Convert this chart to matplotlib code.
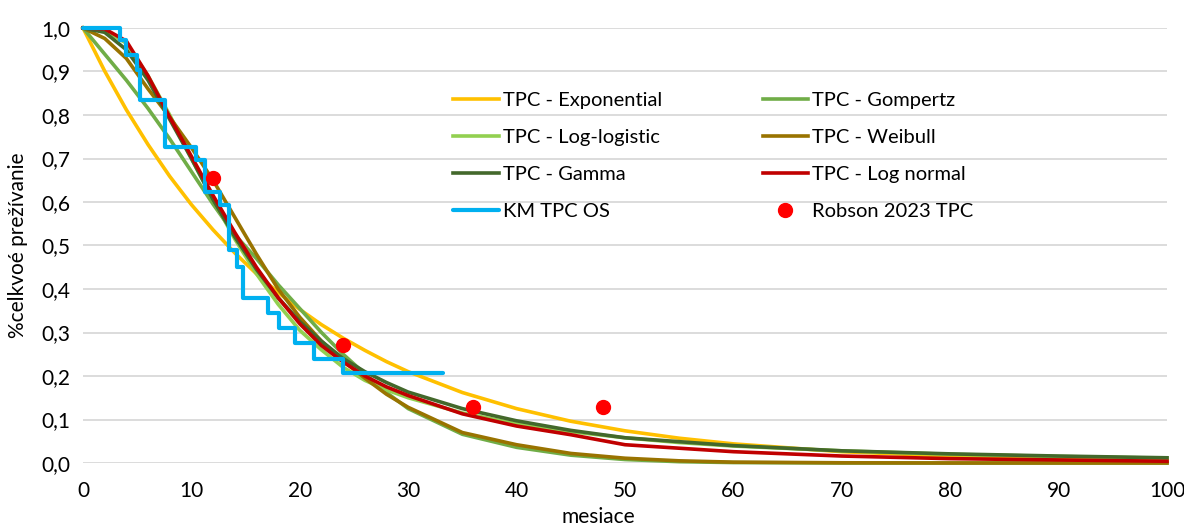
import matplotlib

matplotlib.use("Agg")
import matplotlib.pyplot as plt

plt.rcParams["font.family"] = ["Lato", "DejaVu Sans"]

# model curves at these months
months = [0, 2, 4, 6, 8, 10, 12, 14, 16, 18, 20, 22, 24, 26, 28, 30,
          35, 40, 45, 50, 55, 60, 70, 80, 90, 100]
exponential = [1.0, 0.901, 0.812, 0.732, 0.659, 0.594, 0.536, 0.483, 0.435, 0.392,
               0.353, 0.318, 0.287, 0.259, 0.233, 0.210, 0.162, 0.125, 0.096, 0.074,
               0.057, 0.044, 0.026, 0.016, 0.009, 0.0055]
gompertz = [1.0, 0.94, 0.88, 0.815, 0.745, 0.67, 0.595, 0.525, 0.47, 0.41,
            0.355, 0.30, 0.25, 0.205, 0.162, 0.125, 0.066, 0.036, 0.018, 0.008,
            0.003, 0.001, 0.0, 0.0, 0.0, 0.0]
log_logistic = [1.0, 0.995, 0.965, 0.89, 0.80, 0.70, 0.605, 0.515, 0.435, 0.365,
                0.305, 0.26, 0.22, 0.19, 0.168, 0.15, 0.115, 0.09, 0.072, 0.058,
                0.047, 0.039, 0.028, 0.02, 0.015, 0.011]
weibull = [1.0, 0.976, 0.93, 0.86, 0.795, 0.725, 0.65, 0.565, 0.48, 0.40,
           0.335, 0.28, 0.235, 0.195, 0.158, 0.128, 0.07, 0.042, 0.022, 0.011,
           0.005, 0.002, 0.0005, 0.0, 0.0, 0.0]
gamma = [1.0, 0.99, 0.95, 0.88, 0.79, 0.70, 0.605, 0.52, 0.445, 0.38,
         0.325, 0.28, 0.24, 0.21, 0.185, 0.163, 0.125, 0.097, 0.075, 0.058,
         0.049, 0.04, 0.028, 0.021, 0.016, 0.012]
log_normal = [1.0, 0.998, 0.97, 0.89, 0.795, 0.705, 0.615, 0.53, 0.45, 0.38,
              0.32, 0.27, 0.232, 0.20, 0.175, 0.155, 0.113, 0.085, 0.065, 0.042,
              0.034, 0.026, 0.016, 0.01, 0.007, 0.004]

# Kaplan-Meier steps
km_time = [0, 3.4, 4.0, 5.0, 5.3, 7.6, 10.4, 11.3, 12.6, 13.5, 14.2, 14.8,
           17.1, 18.1, 19.6, 21.3, 24.0, 33.2]
km_surv = [1.0, 0.972, 0.938, 0.903, 0.834, 0.727, 0.697, 0.624, 0.593, 0.49, 0.451, 0.38,
           0.344, 0.31, 0.275, 0.24, 0.207, 0.207]

robson_time = [12, 24, 36, 48]
robson_surv = [0.655, 0.271, 0.129, 0.129]

fig = plt.figure(figsize=(11.84, 5.32), dpi=100)
ax = fig.add_axes([83 / 1184, 69 / 532, 1084 / 1184, 435 / 532])

lw = 2.6
ax.plot(months, exponential, color="#FFC000", lw=lw, label="TPC - Exponential", clip_on=False)
ax.plot(months, gompertz, color="#70AD47", lw=lw, label="TPC - Gompertz", clip_on=False)
ax.plot(months, log_logistic, color="#92D050", lw=lw, label="TPC - Log-logistic", clip_on=False)
ax.plot(months, weibull, color="#997300", lw=lw, label="TPC - Weibull", clip_on=False)
ax.plot(months, gamma, color="#43682B", lw=lw, label="TPC - Gamma", clip_on=False)
ax.plot(months, log_normal, color="#C00000", lw=lw, label="TPC - Log normal", clip_on=False)
ax.plot(km_time, km_surv, color="#00B0F0", lw=3.0, drawstyle="steps-post",
        label="KM TPC OS", clip_on=False, solid_capstyle="round")
ax.plot(robson_time, robson_surv, "o", color="#FF0000", ms=10, label="Robson 2023 TPC",
        clip_on=False, zorder=5)

ax.set_xlim(0, 100)
ax.set_ylim(0, 1.0)
ax.set_xticks(range(0, 101, 10))
ax.set_yticks([i / 10 for i in range(11)])
ax.set_yticklabels([f"{i / 10:.1f}".replace(".", ",") for i in range(11)])
ax.tick_params(axis="both", length=0, labelsize=15, colors="#000000")
ax.tick_params(axis="y", pad=9)
ax.tick_params(axis="x", pad=13)
ax.grid(axis="y", color="#D9D9D9", lw=1.3)
ax.set_axisbelow(True)
for side in ax.spines.values():
    side.set_visible(False)

ax.set_xlabel("mesiace", fontsize=15, va="center")
ax.xaxis.set_label_coords(0.475, -0.125)
ax.set_ylabel("%celkvoé prežívanie", fontsize=15, va="center")
ax.yaxis.set_label_coords(-0.06, 0.5)

handles, labels = ax.get_legend_handles_labels()
order = [0, 2, 4, 6, 1, 3, 5, 7]
ax.legend([handles[i] for i in order], [labels[i] for i in order],
          ncol=2, frameon=False, fontsize=14.5, loc="upper left",
          bbox_to_anchor=(0.325, 0.895), handlelength=2.25, handletextpad=0.2,
          columnspacing=5.0, labelspacing=0.99)

fig.savefig("out.png", dpi=100)
